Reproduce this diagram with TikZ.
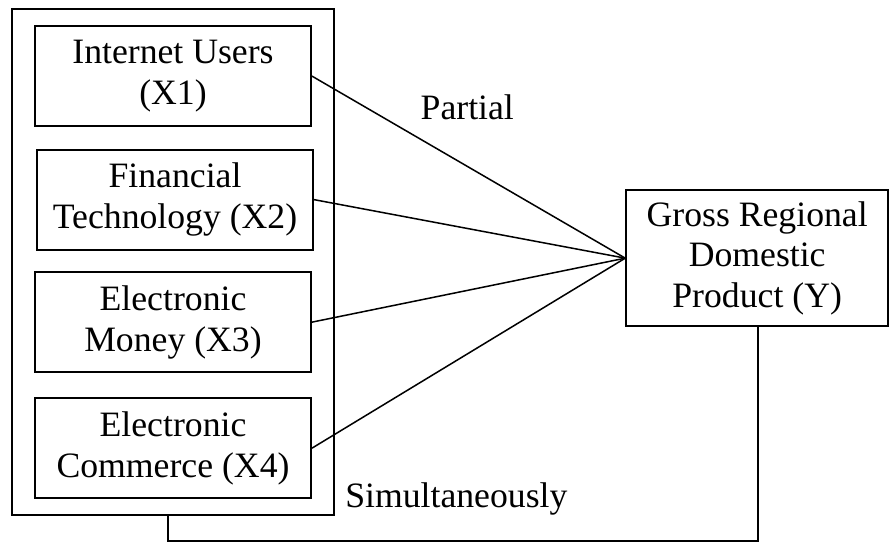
\documentclass[tikz,border=0pt]{standalone}
\usepackage{fontspec}
\setmainfont{Liberation Serif}
\usepackage{tikz}
\pgfdeclarelayer{nodelayer}
\pgfdeclarelayer{edgelayer}
\pgfsetlayers{edgelayer,nodelayer,main}
\tikzstyle{var box}=[fill=white, draw=black, shape=rectangle, line width=0.75pt, align=center, minimum width=3.53cm, minimum height=1.28cm, inner sep=2pt]
\tikzstyle{group box}=[draw=black, shape=rectangle, line width=0.55pt, minimum width=4.12cm, minimum height=6.48cm]
\tikzstyle{plain edge}=[-, line width=0.55pt]

\begin{document}
\begin{tikzpicture}[font=\fontsize{13}{14.8}\selectfont]
	\useasboundingbox (0, 0) rectangle (11.39, 6.99);
	\begin{pgfonlayer}{nodelayer}
		\node [style=group box] (0) at (2.215, 3.636) {};
		\node [style=var box] (1) at (2.214, 6.016) {Internet Users\\(X1)};
		\node [style=var box] (2) at (2.240, 4.435) {Financial\\Technology (X2)};
		\node [style=var box] (3) at (2.214, 2.867) {Electronic\\Money (X3)};
		\node [style=var box] (4) at (2.214, 1.254) {Electronic\\Commerce (X4)};
		\node [style=var box, minimum width=3.35cm, minimum height=1.74cm] (5) at (9.69, 3.686) {Gross Regional\\Domestic\\Product (Y)};
		\node (6) at (5.98, 5.62) {Partial};
		\node (7) at (5.84, 0.60) {Simultaneously};
		\node (8) at (2.150, 0.064) {};
		\node (9) at (9.702, 0.064) {};
	\end{pgfonlayer}
	\begin{pgfonlayer}{edgelayer}
		\draw [style=plain edge] (1.east) to (5.west);
		\draw [style=plain edge] (2.east) to (5.west);
		\draw [style=plain edge] (3.east) to (5.west);
		\draw [style=plain edge] (4.east) to (5.west);
		\draw [style=plain edge] (0.south -| 8.center) to (8.center) to (9.center) to (5.south -| 9.center);
	\end{pgfonlayer}
\end{tikzpicture}
\end{document}
